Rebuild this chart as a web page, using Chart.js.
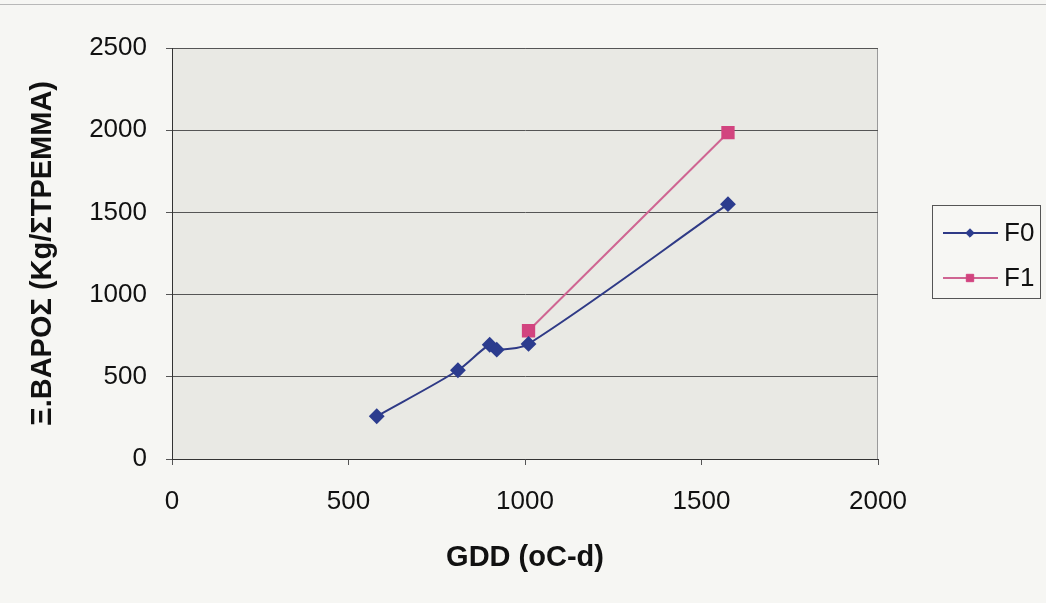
<!DOCTYPE html>
<html>
<head>
<meta charset="utf-8">
<script src="https://cdn.jsdelivr.net/npm/chart.js@4/dist/chart.umd.min.js"></script>
<style>
  html, body { margin: 0; padding: 0; background: #f6f6f3; }
  #wrap { position: relative; width: 1046px; height: 603px; }
  #topline { position: absolute; left: 0; top: 4px; width: 1046px; height: 1px; background: #b8b8b8; }
</style>
</head>
<body>
<div id="wrap">
  <div id="topline"></div>
  <canvas id="chart" width="1046" height="603"></canvas>
</div>
<script>
// values
const f0X = [580, 810, 900, 920, 1010, 1575];
const f0Y = [260, 540, 695, 665, 700, 1550];
const f1X = [1010, 1575];
const f1Y = [780, 1985];
const seriesNames = ['F0', 'F1'];
const xTicks = [0, 500, 1000, 1500, 2000];
const yTicks = [0, 500, 1000, 1500, 2000, 2500];

const FONT = '"Liberation Sans", Arial, sans-serif';

function toPoints(xs, ys) {
    return xs.map((x, i) => ({ x: x, y: ys[i] }));
}

// grey plot background + light frame on top/right
const plotBg = {
    id: 'plotBg',
    beforeDraw(chart) {
        const a = chart.chartArea;
        const ctx = chart.ctx;
        ctx.save();
        ctx.fillStyle = '#e9e9e4';
        ctx.fillRect(a.left, a.top, a.right - a.left, a.bottom - a.top);
        ctx.strokeStyle = '#9a9a9a';
        ctx.lineWidth = 1;
        ctx.beginPath();
        ctx.moveTo(a.left, a.top + 0.5);
        ctx.lineTo(a.right - 0.5, a.top + 0.5);
        ctx.lineTo(a.right - 0.5, a.bottom);
        ctx.stroke();
        ctx.restore();
    }
};

// excel style legend box on the right
const boxLegend = {
    id: 'boxLegend',
    afterDraw(chart) {
        const ctx = chart.ctx;
        const left = 932, top = 205, w = 108, h = 93;
        ctx.save();
        ctx.fillStyle = '#f7f7f4';
        ctx.fillRect(left, top, w, h);
        ctx.strokeStyle = '#555';
        ctx.lineWidth = 1;
        ctx.strokeRect(left + 0.5, top + 0.5, w, h);
        chart.data.datasets.forEach((ds, i) => {
            const y = top + 28 + i * 45;
            ctx.strokeStyle = ds.borderColor;
            ctx.lineWidth = 2;
            ctx.beginPath();
            ctx.moveTo(943, y);
            ctx.lineTo(998, y);
            ctx.stroke();
            ctx.fillStyle = ds.pointBackgroundColor;
            ctx.strokeStyle = ds.pointBorderColor;
            ctx.lineWidth = 1;
            Chart.helpers.drawPoint(ctx, { pointStyle: ds.pointStyle, radius: ds.pointRadius * 0.65, borderWidth: 1 }, 970, y);
            ctx.fillStyle = '#111';
            ctx.font = '26px ' + FONT;
            ctx.textBaseline = 'middle';
            ctx.fillText(ds.label, 1004, y + 1);
        });
        ctx.restore();
    }
};

const ctx = document.getElementById('chart').getContext('2d');
new Chart(ctx, {
    type: 'line',
    data: {
        datasets: [
            {
                label: seriesNames[0],
                data: toPoints(f0X, f0Y),
                borderColor: '#2f3a86',
                borderWidth: 2,
                pointStyle: 'rectRot',
                pointRadius: 6.5,
                pointBackgroundColor: '#2c3c8e',
                pointBorderColor: '#2c3c8e',
                tension: 0.3,
                fill: false
            },
            {
                label: seriesNames[1],
                data: toPoints(f1X, f1Y),
                borderColor: '#cf6592',
                borderWidth: 2,
                pointStyle: 'rect',
                pointRadius: 8,
                pointBackgroundColor: '#d2447f',
                pointBorderColor: '#d2447f',
                tension: 0,
                fill: false
            }
        ]
    },
    options: {
        responsive: false,
        animation: false,
        layout: { padding: { left: 0, top: 48, right: 168, bottom: 0 } },
        plugins: { legend: { display: false }, tooltip: { enabled: false } },
        scales: {
            x: {
                type: 'linear',
                min: 0,
                max: 2000,
                afterBuildTicks(scale) { scale.ticks = xTicks.map(v => ({ value: v })); },
                afterFit(scale) { scale.height = 144; },
                grid: { drawOnChartArea: false, drawTicks: true, tickLength: 6, color: '#555' },
                border: { color: '#333', width: 1 },
                ticks: {
                    color: '#111', font: { family: FONT, size: 26 }, padding: 21, maxRotation: 0,
                    callback: v => String(v)
                },
                title: {
                    display: true,
                    text: 'GDD (oC-d)',
                    color: '#111',
                    font: { family: FONT, size: 29, weight: 'bold' },
                    padding: { top: 0, bottom: 28 }
                }
            },
            y: {
                min: 0,
                max: 2500,
                afterBuildTicks(scale) { scale.ticks = yTicks.map(v => ({ value: v })); },
                afterFit(scale) { scale.width = 172; },
                grid: { color: '#555', tickLength: 6, drawTicks: true },
                border: { color: '#333', width: 1 },
                ticks: {
                    color: '#111', font: { family: FONT, size: 26 }, padding: 19,
                    callback: v => String(v)
                },
                title: {
                    display: true,
                    text: 'Ξ.ΒΑΡΟΣ (Kg/ΣΤΡΕΜΜΑ)',
                    color: '#111',
                    font: { family: FONT, size: 29, weight: 'bold' },
                    padding: { top: 26, bottom: 0 }
                }
            }
        }
    },
    plugins: [plotBg, boxLegend]
});
</script>
</body>
</html>
